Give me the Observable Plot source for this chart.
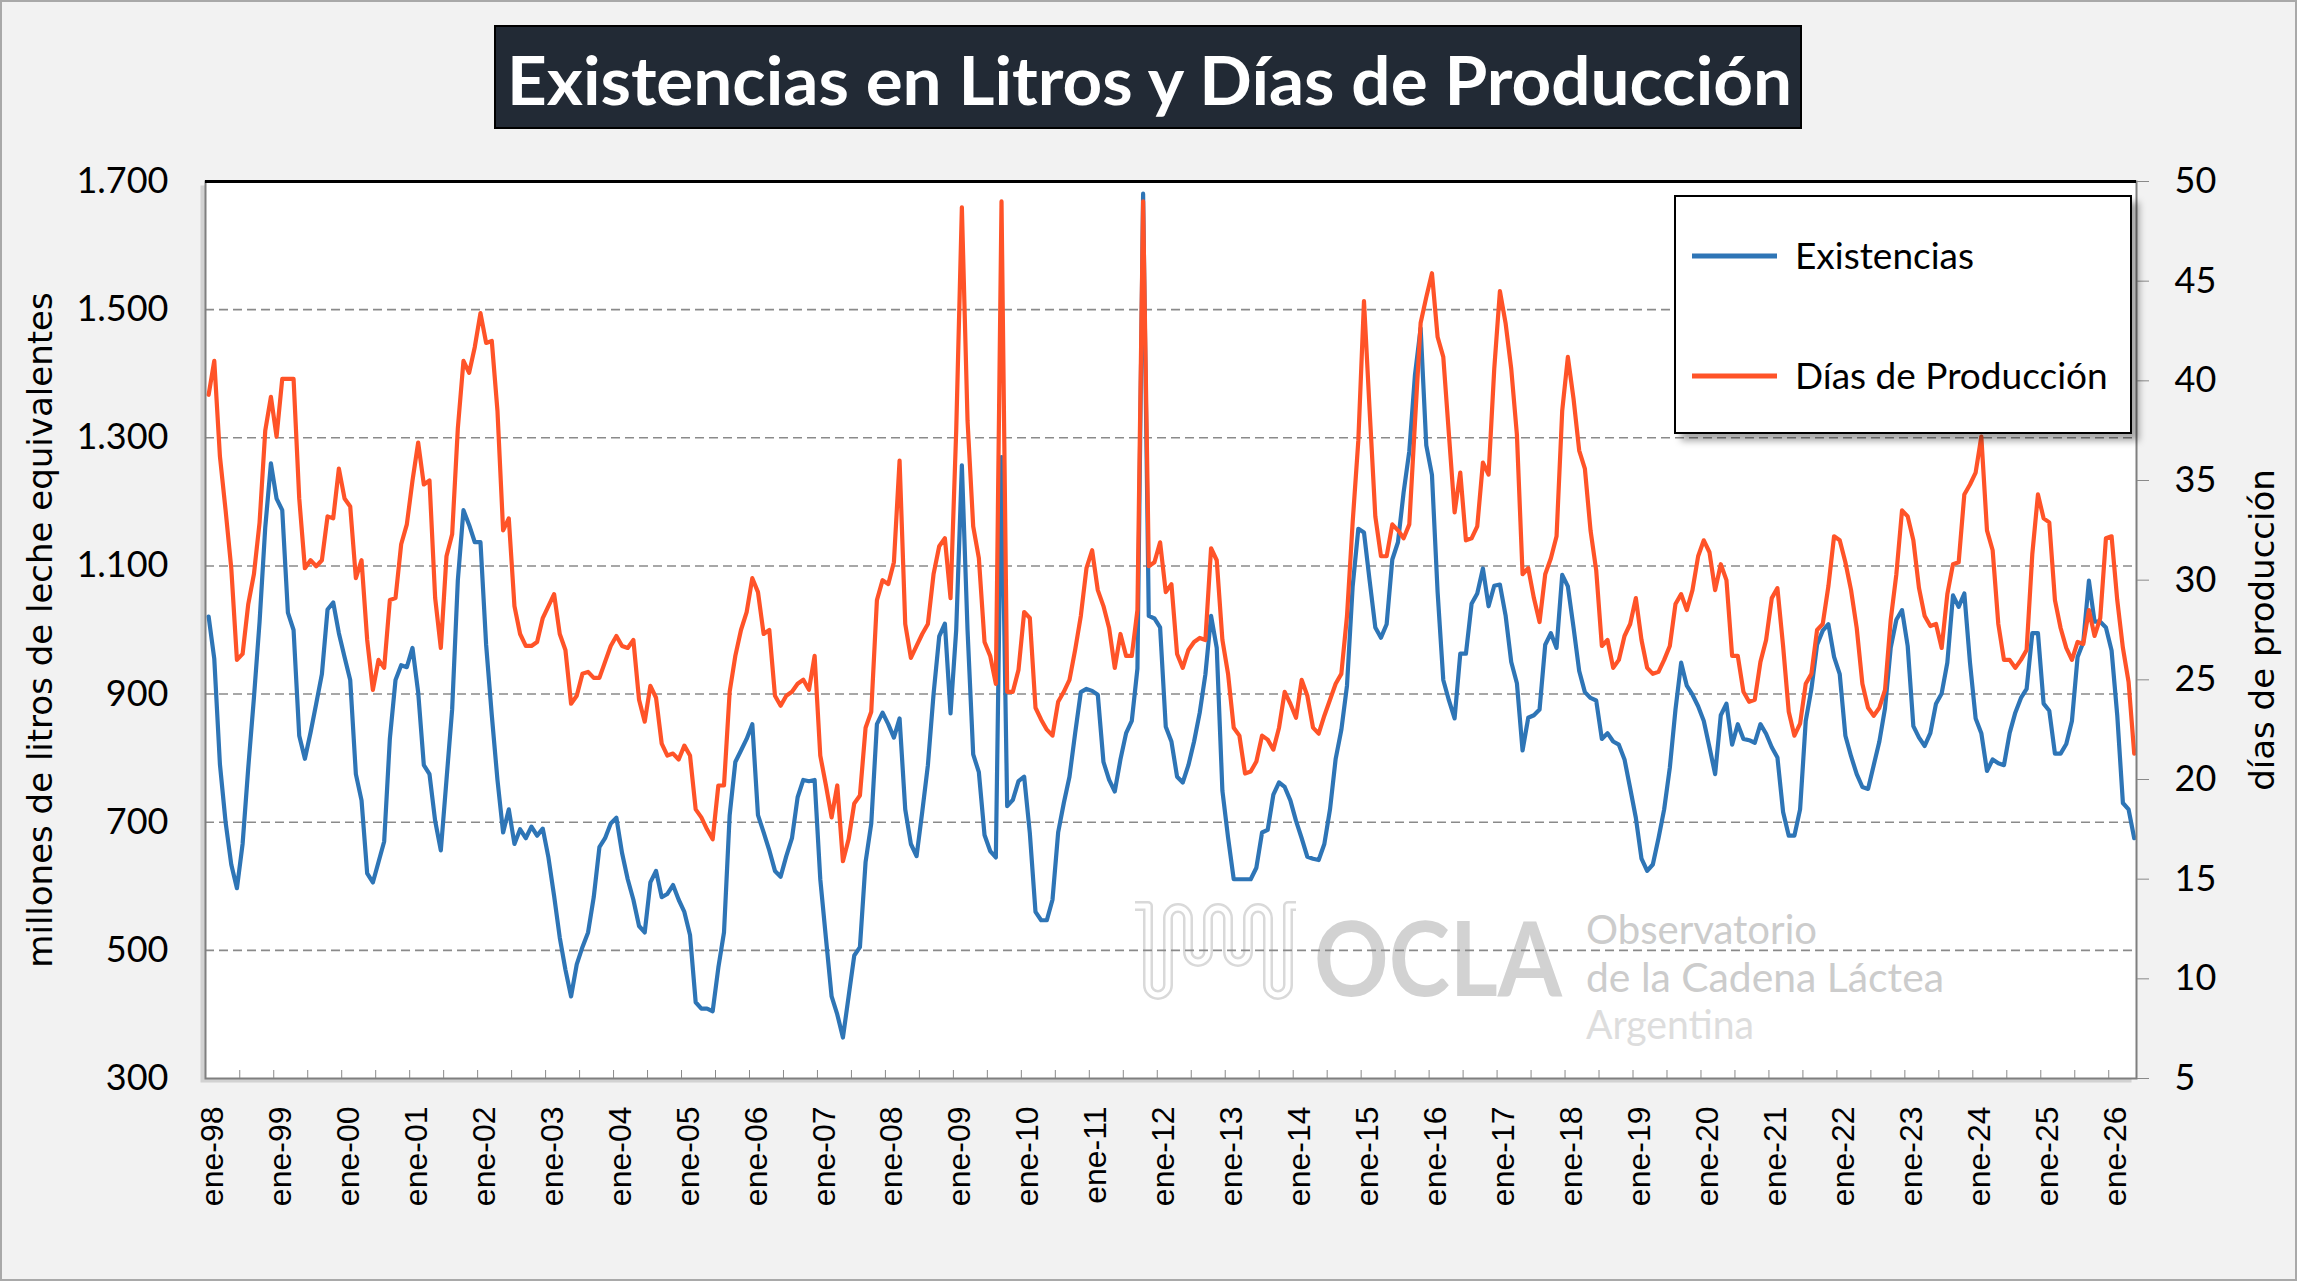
<!DOCTYPE html>
<html>
<head>
<meta charset="utf-8">
<script src="https://cdn.jsdelivr.net/npm/d3@7"></script>
<script src="https://cdn.jsdelivr.net/npm/@observablehq/plot@0.6"></script>
<style>
  html, body { margin: 0; padding: 0; background: #f2f2f2; }
  #page { position: relative; width: 2297px; height: 1281px; background: #f2f2f2; overflow: hidden;
          box-shadow: inset 0 0 0 2px #a9a9a9; }
  #title { position: absolute; left: 494px; top: 25px; width: 1308px; height: 104px; background: #222a35;
           border: 2px solid #000; box-sizing: border-box; }
  #chart { position: absolute; left: 0; top: 150px; }
  #legend { position: absolute; left: 1674px; top: 195px; width: 458px; height: 239px; background: #fff;
            border: 2px solid #000; box-sizing: border-box; box-shadow: 7px 7px 7px rgba(0,0,0,0.35); }
</style>
</head>
<body>
<div id="page">
  <div id="chart"></div>
  <div id="title"></div>
  <div id="legend"></div>
</div>
<script>
// ---------------- DATA ----------------
const titleText = "Existencias en Litros y Días de Producción";
const seriesNames = ["Existencias", "Días de Producción"];
const leftAxisTitle = "millones de litros de leche equivalentes";
const rightAxisTitle = "días de producción";

// monthly, ene-98 .. may-26 (millones de litros)
const existencias = [
1021,955,790,700,634,597,666,785,894,1013,1160,1260,
1205,1187,1027,1000,835,799,840,885,931,1032,1043,995,
958,922,775,734,620,606,638,670,830,922,945,942,
972,903,789,775,702,656,766,876,1077,1187,1164,1137,
1137,977,867,766,684,720,666,689,675,693,679,690,
645,585,520,470,428,478,505,528,583,661,675,698,
707,652,611,579,538,528,606,624,583,588,602,579,
560,524,419,409,409,405,473,528,711,794,812,830,
853,711,684,656,624,615,647,675,739,766,764,766,
611,519,428,400,364,428,492,505,638,698,853,871,
853,832,862,720,666,647,716,789,900,990,1010,870,
1000,1257,1000,806,778,680,655,645,1270,725,735,764,
771,683,560,547,547,579,684,730,771,839,903,908,
905,899,794,766,748,798,839,858,940,1681,1022,1018,
1004,849,826,771,762,789,826,871,931,1022,972,749,
676,611,611,611,611,629,684,688,743,762,755,734,
702,675,646,643,641,666,720,799,844,913,1068,1158,
1152,1077,1004,988,1009,1110,1137,1215,1279,1398,1471,1288,
1242,1059,922,890,862,963,963,1041,1057,1096,1037,1069,
1071,1023,950,917,812,863,867,876,977,995,972,1086,
1068,1004,936,903,894,890,830,839,826,821,798,753,
707,643,624,634,675,720,785,876,949,913,899,881,
858,817,775,867,885,821,853,830,828,824,853,838,
817,801,716,679,679,720,858,908,977,999,1009,958,
931,835,803,775,755,752,789,826,878,972,1016,1031,
975,850,832,819,839,885,901,949,1054,1036,1057,949,
862,839,780,798,792,789,839,871,894,908,995,995,
885,874,807,807,822,858,958,981,1077,1013,1013,1004,
968,867,730,720,675
];

// monthly, ene-98 .. may-26 (días de producción)
const dias = [
39.3,41.0,36.2,33.5,30.6,26.0,26.3,28.8,30.3,32.9,37.5,39.2,
37.2,40.1,40.1,40.1,34.1,30.6,31.0,30.7,31.0,33.2,33.1,35.6,
34.1,33.7,30.1,31.0,27.0,24.5,26.0,25.6,29.0,29.1,31.8,32.8,
35.0,36.9,34.8,35.0,29.1,26.6,31.2,32.3,37.6,41.0,40.4,41.7,
43.4,41.9,42.0,38.5,32.5,33.1,28.7,27.3,26.7,26.7,26.9,28.1,
28.7,29.3,27.3,26.5,23.8,24.2,25.3,25.4,25.1,25.1,25.9,26.7,
27.2,26.7,26.6,27.0,24.0,22.9,24.7,24.1,21.8,21.2,21.3,21.0,
21.7,21.2,18.5,18.1,17.5,17.0,19.7,19.7,24.4,26.2,27.5,28.4,
30.1,29.4,27.3,27.5,24.2,23.7,24.2,24.4,24.8,25.0,24.5,26.2,
21.2,19.7,18.1,19.7,15.9,17.0,18.8,19.2,22.6,23.4,29.0,30.0,
29.8,30.9,36.0,27.8,26.1,26.7,27.3,27.8,30.3,31.7,32.1,29.1,
37.5,48.7,38.0,32.7,31.1,26.9,26.2,24.8,49.0,24.4,24.4,25.5,
28.4,28.1,23.6,23.0,22.5,22.2,23.9,24.4,25.0,26.5,28.2,30.6,
31.5,29.5,28.7,27.6,25.6,27.3,26.2,26.2,28.5,49.0,30.7,30.9,
31.9,29.4,29.8,26.3,25.6,26.5,26.9,27.1,27.0,31.6,31.0,27.0,
25.3,22.6,22.2,20.3,20.4,20.9,22.2,22.0,21.5,22.6,24.4,23.8,
23.1,25.0,24.2,22.6,22.3,23.2,24.0,24.8,25.3,28.2,32.9,37.0,
44.0,38.5,33.2,31.2,31.2,32.8,32.5,32.1,32.8,37.9,42.9,44.2,
45.4,42.2,41.2,37.3,33.4,35.4,32.0,32.1,32.7,35.9,35.3,40.6,
44.5,42.9,40.6,37.3,30.3,30.6,29.1,27.9,30.3,31.1,32.2,38.5,
41.2,39.1,36.5,35.6,32.5,30.5,26.7,27.0,25.6,26.0,27.2,27.8,
29.1,27.0,25.6,25.3,25.4,26.0,26.7,28.8,29.3,28.5,29.5,31.2,
32.0,31.4,29.5,30.8,30.0,26.2,26.2,24.4,23.9,24.0,25.9,27.0,
29.1,29.6,26.7,23.4,22.2,22.8,24.8,25.3,27.5,27.8,29.7,32.2,
32.0,30.9,29.5,27.6,24.8,23.6,23.2,23.6,24.5,28.0,30.3,33.5,
33.2,32.0,29.6,28.2,27.7,27.8,26.6,29.3,30.8,30.9,34.3,34.8,
35.4,37.2,32.5,31.5,27.8,26.0,26.0,25.6,26.0,26.5,31.3,34.3,
33.1,32.9,29.0,27.6,26.6,26.0,26.9,26.8,28.5,27.2,28.1,32.1,
32.2,29.0,26.6,24.9,21.3
];

// axis ticks
const xTickLabels = ["ene-98","ene-99","ene-00","ene-01","ene-02","ene-03","ene-04","ene-05","ene-06","ene-07",
  "ene-08","ene-09","ene-10","ene-11","ene-12","ene-13","ene-14","ene-15","ene-16","ene-17","ene-18","ene-19",
  "ene-20","ene-21","ene-22","ene-23","ene-24","ene-25","ene-26"];
const xTickIndex = xTickLabels.map((_, k) => k * 12);
const xMinorTicks = d3.range(5.5, 340, 6);
const leftTicks = [300, 500, 700, 900, 1100, 1300, 1500, 1700];
const gridValues = [500, 700, 900, 1100, 1300, 1500];
const rightTicks = [5, 10, 15, 20, 25, 30, 35, 40, 45, 50];

// ---------------- SCALES / HELPERS ----------------
const LEFT_MIN = 300, LEFT_MAX = 1700, RIGHT_MIN = 5, RIGHT_MAX = 50;
const toLeft = d => LEFT_MIN + (d - RIGHT_MIN) * (LEFT_MAX - LEFT_MIN) / (RIGHT_MAX - RIGHT_MIN);
const fromLeft = v => RIGHT_MIN + (v - LEFT_MIN) * (RIGHT_MAX - RIGHT_MIN) / (LEFT_MAX - LEFT_MIN);
const esFormat = d3.formatLocale({decimal: ",", thousands: ".", grouping: [3], currency: ["$", ""]}).format(",");
const labelOf = new Map(xTickIndex.map((d, k) => [d, xTickLabels[k]]));

const rows = existencias.map((v, i) => ({i, v, d: dias[i], dl: toLeft(dias[i])}));

const BLUE = "#2E75B6", ORANGE = "#FF5328";
const SVG_TOP = 150;

// watermark (decoration drawn behind the lines)
function watermark() {
  const g = d3.create("svg:g").attr("transform", `translate(0,${-SVG_TOP})`).attr("text-anchor", "start");
  const wave = "M1135,906 H1148 V985 a10,10 0 0 0 20,0 V918 a10,10 0 0 1 20,0 V952 a10,10 0 0 0 20,0 V918 a10,10 0 0 1 20,0 V952 a10,10 0 0 0 20,0 V918 a10,10 0 0 1 20,0 V985 a10,10 0 0 0 20,0 V906 H1296";
  g.append("path").attr("d", wave).attr("fill", "none").attr("stroke", "#d9d9d9").attr("stroke-width", 10).attr("stroke-linejoin", "round");
  g.append("path").attr("d", wave).attr("fill", "none").attr("stroke", "#ffffff").attr("stroke-width", 5).attr("stroke-linejoin", "round");
  g.append("text").attr("x", 1314).attr("y", 996).attr("text-anchor", "start").attr("font-family", "Lato").attr("font-weight", 700)
    .attr("font-size", 104).attr("fill", "#d2d2d2").attr("textLength", 248).attr("lengthAdjust", "spacingAndGlyphs").text("OCLA");
  const lines = [["Observatorio", 944, 231, "#cccccc"], ["de la Cadena Láctea", 992, 358, "#cccccc"], ["Argentina", 1039, 168, "#dddddd"]];
  for (const [t, y, len, c] of lines) {
    g.append("text").attr("x", 1586).attr("y", y).attr("text-anchor", "start").attr("font-family", "Lato").attr("font-size", 40)
      .attr("fill", c).attr("textLength", len).attr("lengthAdjust", "spacingAndGlyphs").text(t);
  }
  return g.node();
}

const chart = Plot.plot({
  width: 2297,
  height: 1131,
  marginTop: 31,
  marginBottom: 203,
  marginLeft: 205,
  marginRight: 161,
  style: {background: "transparent", overflow: "visible", fontFamily: "Lato", fontSize: "36px", color: "#000"},
  x: {type: "linear", domain: [-0.55, 340.4]},
  y: {domain: [LEFT_MIN, LEFT_MAX]},
  marks: [
    Plot.frame({fill: "#bdbdbd", dx: -5, dy: 4, fillOpacity: 0.6}),
    Plot.frame({fill: "#ffffff"}),
    watermark,
    Plot.ruleY(gridValues, {stroke: "#8a8a8a", strokeWidth: 1.6, strokeDasharray: "9,5"}),
    Plot.line(rows, {x: "i", y: "v", stroke: BLUE, strokeWidth: 4.2, strokeLinejoin: "round"}),
    Plot.line(rows, {x: "i", y: "dl", stroke: ORANGE, strokeWidth: 4.2, strokeLinejoin: "round"}),
    Plot.frame({stroke: "#7f7f7f", strokeWidth: 2}),
    Plot.ruleY([LEFT_MAX], {stroke: "#000", strokeWidth: 3}),
    Plot.axisY(leftTicks, {anchor: "left", tickSize: 0, tickPadding: 37, tickFormat: esFormat,
      fontSize: 36, fontFamily: "Lato", label: null}),
    Plot.axisY(rightTicks.map(toLeft), {anchor: "right", tickSize: 12, tickPadding: 26, stroke: "#8a8a8a",
      tickFormat: v => String(Math.round(fromLeft(v))), fontSize: 36, fontFamily: "Lato", label: null}),
    Plot.axisX(xMinorTicks, {anchor: "bottom", tickSize: -8, tickFormat: () => "", stroke: "#8a8a8a", label: null}),
    Plot.axisX(xTickIndex, {anchor: "bottom", tickSize: 0, tickPadding: 28, tickRotate: -90, dx: 4,
      tickFormat: d => labelOf.get(d), fontSize: 32, fontFamily: "Liberation Sans", label: null}),
    Plot.text([leftAxisTitle], {frameAnchor: "left", text: d => d, rotate: -90, dx: -164, textAnchor: "middle",
      fontSize: 34, fontFamily: "DejaVu Sans", fill: "#000"}),
    Plot.text([rightAxisTitle], {frameAnchor: "right", text: d => d, rotate: -90, dx: 127, textAnchor: "middle",
      fontSize: 34, fontFamily: "DejaVu Sans", fill: "#000"})
  ]
});
document.getElementById("chart").appendChild(chart);

// ---------------- TITLE ----------------
const tsvg = d3.select("#title").append("svg").attr("width", 1304).attr("height", 100);
tsvg.append("text").attr("x", 11).attr("y", 78).attr("fill", "#ffffff")
  .attr("font-family", "Lato").attr("font-weight", 700).attr("font-size", 66)
  .attr("textLength", 1285).attr("lengthAdjust", "spacingAndGlyphs").text(titleText);

// ---------------- LEGEND ----------------
const lsvg = d3.select("#legend").append("svg").attr("width", 454).attr("height", 235);
const legendItems = [[seriesNames[0], BLUE, 59], [seriesNames[1], ORANGE, 179]];
for (const [name, color, y] of legendItems) {
  lsvg.append("line").attr("x1", 16).attr("x2", 101).attr("y1", y).attr("y2", y)
    .attr("stroke", color).attr("stroke-width", 5);
  lsvg.append("text").attr("x", 119).attr("y", y).attr("dy", "0.35em")
    .attr("font-family", "Lato").attr("font-size", 37).attr("fill", "#000").text(name);
}
</script>
</body>
</html>
